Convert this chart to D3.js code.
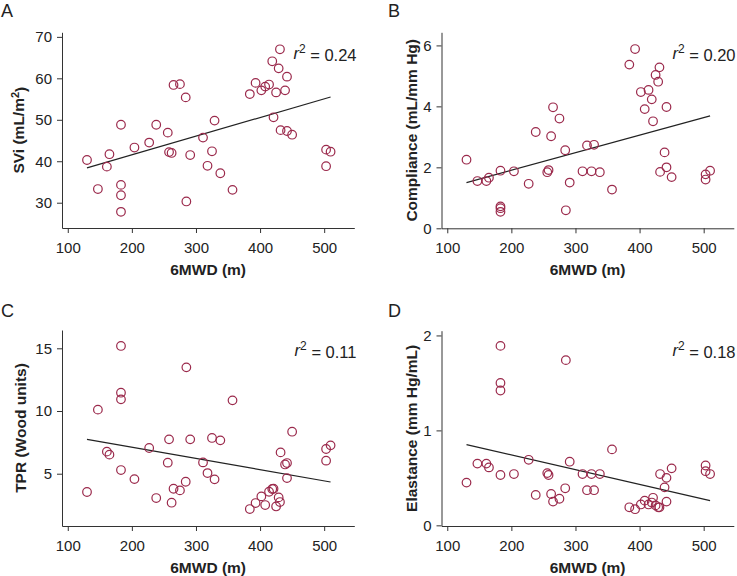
<!DOCTYPE html>
<html><head><meta charset="utf-8">
<script src="https://cdn.jsdelivr.net/npm/d3@7"></script>
<style>body{margin:0;background:#fff} text{font-family:"Liberation Sans",Arial,Helvetica,sans-serif;fill:#222}</style>
</head><body><svg id="c" width="737" height="576"></svg>
<script>
// Shared x values: 6-minute walk distance (m)
const sixMWD = [130,147,161,165,183,183,183,183,204,227,238,256,258,262,265,275,284,285,291,311,318,325,329,338,357,384,393,402,408,414,419,421,425,429,431,432,439,442,442,450,503,503,510];
// Panel A: SVi (mL/m2)
const svi = [40.3,33.3,38.7,41.7,48.8,34.3,31.8,27.8,43.3,44.5,48.8,46.9,42.2,42.0,58.4,58.6,55.4,30.3,41.5,45.7,38.9,42.4,49.8,37.1,33.1,56.2,58.9,57.1,58.0,58.5,64.1,50.6,56.6,62.4,67.0,47.5,57.1,60.4,47.3,46.4,42.8,38.8,42.3];
// Panel B: Compliance (mL/mm Hg)
const compliance = [2.25,1.55,1.55,1.66,1.89,0.72,0.66,0.54,1.87,1.46,3.16,1.84,1.91,3.02,3.97,3.60,2.56,0.59,1.50,1.87,2.72,1.87,2.74,1.84,1.27,5.37,5.88,4.47,3.91,4.54,4.23,3.51,5.03,4.81,5.28,1.85,2.49,2.00,3.98,1.68,1.60,1.77,1.89];
// Panel C: TPR (Wood units)
const tpr = [3.54,10.11,6.76,6.52,15.19,11.46,10.93,5.29,4.57,7.05,3.06,5.88,7.74,2.69,3.80,3.67,4.36,13.48,7.74,5.90,5.05,7.85,4.55,7.66,10.85,2.18,2.66,3.19,2.50,3.56,3.78,3.80,2.39,3.11,2.74,6.70,5.74,5.85,4.65,8.35,6.97,6.04,7.26];
// Panel D: Elastance (mm Hg/mL)
const elastance = [0.45,0.65,0.65,0.61,1.89,1.50,1.42,0.53,0.54,0.69,0.32,0.55,0.53,0.33,0.25,0.28,0.39,1.74,0.67,0.54,0.37,0.54,0.37,0.54,0.80,0.19,0.17,0.22,0.26,0.22,0.24,0.29,0.21,0.19,0.19,0.54,0.40,0.50,0.25,0.60,0.63,0.57,0.54];

// Tick labels
const xTicks = [100,200,300,400,500];
const sviTicks = [30,40,50,60,70];
const complianceTicks = [0,2,4,6];
const tprTicks = [5,10,15];
const elastanceTicks = [0,1,2];

// Regression lines (endpoints)
const fitX = [130,510];
const sviFit = [38.4,55.5];
const complianceFit = [1.50,3.69];
const tprFit = [7.74,4.34];
const elastanceFit = [0.85,0.26];

const r2Values = ["0.24","0.20","0.11","0.18"];
const panelLetters = ["A","B","C","D"];
const yTitles = [["SVi (mL/m","2",")"],["Compliance (mL/mm Hg)"],["TPR (Wood units)"],["Elastance (mm Hg/mL)"]];
const xTitle = "6MWD (m)";

const svg = d3.select("#c");
const dotColor = "#9b2a4c";
const fmt = d3.format("d");

const panels = [
  {ys: svi, yt: sviTicks, fit: sviFit, xr:[62,354.3], xd:[91,547], yr:[228,32.3], yd:[23.9,71.1], lx:1, ly:16.7, tx:23.5, rx:356.5, ry:58.5},
  {ys: compliance, yt: complianceTicks, fit: complianceFit, xr:[441.5,733.8], xd:[91,547], yr:[228.3,32.3], yd:[0,6.43], lx:388, ly:16.7, tx:417, rx:735.5, ry:58.5},
  {ys: tpr, yt: tprTicks, fit: tprFit, xr:[62,354.3], xd:[91,547], yr:[526,330], yd:[0.83,16.46], lx:1, ly:316.7, tx:25.5, rx:356.5, ry:355.7},
  {ys: elastance, yt: elastanceTicks, fit: elastanceFit, xr:[441.5,733.8], xd:[91,547], yr:[526,330.7], yd:[-0.007,2.05], lx:388, ly:316.7, tx:417, rx:735.5, ry:355.7}
];

panels.forEach((p,i)=>{
  const g = svg.append("g");
  const x = d3.scaleLinear().domain(p.xd).range(p.xr);
  const y = d3.scaleLinear().domain(p.yd).range(p.yr);

  const xa = g.append("g").attr("transform",`translate(0,${p.yr[0]})`)
    .call(d3.axisBottom(x).tickValues(xTicks).tickFormat(fmt).tickSize(5).tickSizeOuter(0).tickPadding(9));
  const ya = g.append("g").attr("transform",`translate(${p.xr[0]},0)`)
    .call(d3.axisLeft(y).tickValues(p.yt).tickFormat(fmt).tickSize(5).tickSizeOuter(0).tickPadding(5));
  [xa,ya].forEach(a=>{
    a.selectAll("path,line").attr("stroke","#333").attr("stroke-width",1);
    a.selectAll("text").style("font-size","15px").attr("fill","#222");
  });

  // regression line
  g.append("line")
    .attr("x1",x(fitX[0])).attr("y1",y(p.fit[0]))
    .attr("x2",x(fitX[1])).attr("y2",y(p.fit[1]))
    .attr("stroke","#222").attr("stroke-width",1.2);

  // points
  g.selectAll("circle").data(sixMWD.map((v,k)=>[v,p.ys[k]])).join("circle")
    .attr("cx",d=>x(d[0])).attr("cy",d=>y(d[1])).attr("r",4.3)
    .attr("fill","none").attr("stroke",dotColor).attr("stroke-width",1.2);

  // panel letter
  g.append("text").attr("x",p.lx).attr("y",p.ly).text(panelLetters[i])
    .style("font-size","18px");

  // x title
  g.append("text").attr("x",(p.xr[0]+p.xr[1])/2).attr("y",p.yr[0]+47)
    .attr("text-anchor","middle").style("font-size","15.5px").style("font-weight","bold").text(xTitle);

  // y title
  const yc = (p.yr[0]+p.yr[1])/2;
  const yt = g.append("text").attr("transform",`translate(${p.tx},${yc}) rotate(-90)`)
    .attr("text-anchor","middle").style("font-size","15.5px").style("font-weight","bold");
  const parts = yTitles[i];
  if(parts.length===1){ yt.text(parts[0]); }
  else {
    yt.append("tspan").text(parts[0]);
    yt.append("tspan").attr("dy","-0.45em").style("font-size","11px").text(parts[1]);
    yt.append("tspan").attr("dy","0.45em").text(parts[2]);
  }

  // r^2 annotation
  const rt = g.append("text").attr("x",p.rx).attr("y",p.ry).attr("text-anchor","end").style("font-size","16.5px");
  rt.append("tspan").style("font-style","italic").text("r");
  rt.append("tspan").attr("dy","-0.45em").style("font-size","12px").text("2");
  rt.append("tspan").attr("dy","0.45em").text(" = " + r2Values[i]);
});
</script></body></html>
